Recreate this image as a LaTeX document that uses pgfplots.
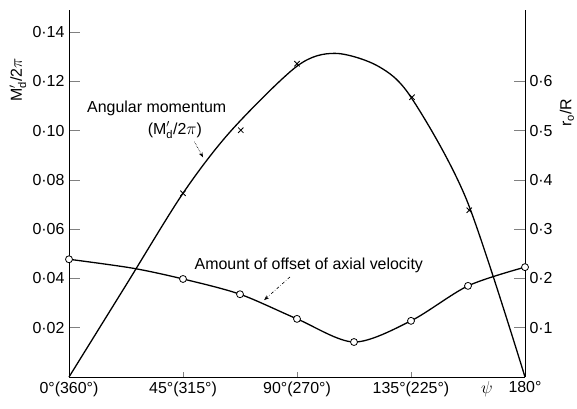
\documentclass[border=0pt]{standalone}
\usepackage{fontspec}
\setmainfont{Liberation Sans}
\usepackage{pgfplots}
\pgfplotsset{compat=1.18}
\usetikzlibrary{arrows.meta}
\begin{document}
\begin{tikzpicture}[font=\fontsize{16}{19}\selectfont]
\path[use as bounding box] (-69bp,-32bp) rectangle (508bp,377bp);
\begin{axis}[
  scale only axis, width=456bp, height=367bp,
  xmin=0, xmax=180, ymin=0, ymax=0.149,
  axis x line*=bottom, axis y line*=left,
  axis line style={line width=1pt},
  xtick={0,45,90,135,180},
  xticklabels={0°(360°),45°(315°),90°(270°),135°(225°),180°},
  extra x ticks={165}, extra x tick labels={$\psi$},
  extra x tick style={tick style={draw=none}},
  x tick style={/pgfplots/major tick length=5bp, line width=0.6pt},
  ytick={0.02,0.04,0.06,0.08,0.10,0.12,0.14},
  y tick style={/pgfplots/major tick length=11bp, line width=0.8pt},
  tick align=inside,
  /pgf/number format/assume math mode=true,
  /pgf/number format/fixed, /pgf/number format/precision=2,
  /pgf/number format/fixed zerofill,
  /pgf/number format/set decimal separator={\textperiodcentered},
  yticklabel style={xshift=-1bp},
  xticklabel style={yshift=-1bp},
  ylabel={M$'_{\mathrm{d}}$/2$\pi$},
  ylabel style={at={(rel axis cs:-0.112,0.81)}, anchor=center},
  clip=false,
]
\addplot[black, line width=1.3pt, smooth, no marks] coordinates {
 (0,0) (22.5,0.0373) (45,0.0746) (64,0.100) (90,0.1262) (105,0.1314)
 (122,0.1262) (135,0.1136) (157,0.0718) (180,0)};
\addplot[black, only marks, mark=x, mark size=3.8pt, line width=0.8pt] coordinates {
 (45,0.0746) (67.8,0.1002) (90,0.1272) (135.4,0.1136) (158,0.0677)};
\node[anchor=west] at (axis cs:5.8,0.1091) {Angular momentum};
\node[anchor=center] at (axis cs:41.8,0.1002) {(M$'_{\mathrm{d}}$/2$\pi$)};
\draw[densely dotted, line width=0.6pt, -{Stealth[length=5pt]}] (axis cs:49.5,0.0955) -- (axis cs:52.9,0.0892);
\node[anchor=west] at (axis cs:48.2,0.0455) {Amount of offset of axial velocity};
\draw[dash dot, line width=0.6pt, -{Stealth[length=5pt]}] (axis cs:87.2,0.0406) -- (axis cs:77,0.0312);
\end{axis}
\begin{axis}[
  scale only axis, width=456bp, height=367bp,
  xmin=0, xmax=180, ymin=0, ymax=0.745,
  axis x line=none, axis y line*=right,
  axis line style={line width=1pt},
  ytick={0.1,0.2,0.3,0.4,0.5,0.6},
  y tick style={/pgfplots/major tick length=11bp, line width=0.8pt},
  tick align=inside,
  /pgf/number format/assume math mode=true,
  /pgf/number format/fixed, /pgf/number format/precision=1,
  /pgf/number format/fixed zerofill,
  /pgf/number format/set decimal separator={\textperiodcentered},
  yticklabel style={xshift=1bp},
  ylabel={r$_{\mathrm{o}}$/R},
  ylabel style={at={(rel axis cs:1.092,0.72)}, anchor=center},
  clip=false,
]
\addplot[black, line width=1.3pt, smooth, no marks] coordinates {
 (0,0.239) (25,0.221) (45,0.199) (67.5,0.168) (90,0.118) (112.5,0.071)
 (135,0.114) (157.5,0.185) (180,0.223)};
\addplot[black, only marks, mark=*, mark size=3.5pt, line width=0.8pt,
  mark options={fill=white, draw=black}] coordinates {
 (0,0.239) (45,0.199) (67.5,0.168) (90,0.118) (112.5,0.071)
 (135,0.114) (157.5,0.185) (180,0.223)};
\end{axis}
\end{tikzpicture}
\end{document}
